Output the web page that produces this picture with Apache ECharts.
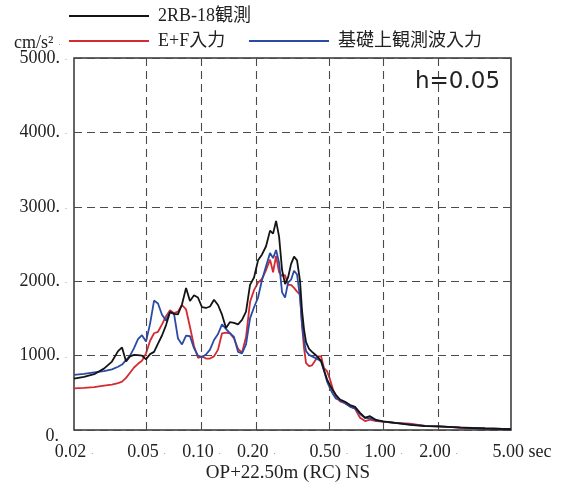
<!DOCTYPE html>
<html>
<head>
<meta charset="utf-8">
<script src="https://cdn.jsdelivr.net/npm/echarts@6/dist/echarts.min.js"></script>
<style>
html,body{margin:0;padding:0;background:#fff;}
#chart{width:565px;height:488px;}
</style>
</head>
<body>
<div id="chart"></div>
<script>
// Periods (sec)
const periods = [0.0200,0.0227,0.0258,0.0292,0.0323,0.0349,0.0367,0.0386,0.0406,0.0427,0.0449,0.0472,0.0497,0.0523,0.0550,0.0578,0.0608,0.0640,0.0673,0.0708,0.0744,0.0783,0.0824,0.0866,0.0911,0.0958,0.1008,0.1060,0.1115,0.1173,0.1234,0.1298,0.1365,0.1436,0.1510,0.1589,0.1671,0.1758,0.1849,0.1945,0.2046,0.2152,0.2264,0.2381,0.2474,0.2570,0.2669,0.2772,0.2879,0.2990,0.3105,0.3225,0.3349,0.3479,0.3568,0.3659,0.3753,0.3898,0.4049,0.4205,0.4368,0.4536,0.4711,0.4893,0.5083,0.5279,0.5483,0.5768,0.6144,0.6545,0.6971,0.7426,0.7910,0.8426,0.9091,0.993,1.156,1.397,1.689,2.041,2.628,3.606,5.00];
// 2RB-18観測 (black)
const obs2RB = [690,715,750,825,920,1060,1110,920,990,1010,1005,1000,950,1020,1050,1160,1270,1410,1585,1560,1555,1690,1910,1735,1810,1780,1650,1640,1660,1750,1680,1550,1370,1450,1440,1420,1480,1590,1950,2050,2280,2360,2470,2680,2640,2810,2600,2150,1960,2050,2230,2330,2280,2000,1600,1350,1180,1090,1050,1015,975,930,800,680,600,530,470,410,380,335,310,230,165,185,135,115,96,70,52,50,32,20,13];
// E+F入力 (red)
const inputEF = [560,565,575,595,610,630,650,700,770,840,890,930,1030,1200,1300,1320,1420,1530,1610,1570,1590,1680,1620,1385,1130,970,990,960,960,990,1080,1300,1310,1300,1230,1090,1040,1250,1720,1880,1980,2030,2150,2290,2120,2340,2120,2070,2080,1950,1950,1910,1860,1820,1400,1100,900,860,870,930,990,990,830,790,680,540,450,385,360,315,285,165,120,140,118,112,95,85,55,45,35,22,12];
// 基礎上観測波入力 (blue)
const inputBase = [740,755,775,790,815,850,880,940,1000,1100,1220,1275,1190,1430,1740,1700,1550,1470,1590,1560,1230,1150,1270,1260,1100,1000,980,1015,1080,1210,1290,1420,1360,1300,1250,1050,1030,1150,1500,1650,1780,2020,2200,2380,2310,2420,2250,1850,1780,1980,2020,2140,2090,1780,1420,1200,1060,1010,990,970,950,920,800,650,560,480,420,400,360,315,290,215,160,160,130,112,96,75,55,48,32,20,12];

const xTicks = [0.02,0.05,0.1,0.2,0.5,1,2,5];
const xTickLabels = ['0.02','0.05','0.10','0.20','0.50','1.00','2.00','5.00'];
const xUnit = 'sec';
const yMax = 5000, yStep = 1000;
const seriesNames = ['2RB-18観測','E+F入力','基礎上観測波入力'];
const dampingLabel = 'h=0.05';
const yUnit = 'cm/s²';
const xTitle = 'OP+22.50m (RC) NS';

const SERIF = "'Liberation Serif','Times New Roman','Noto Sans CJK JP',serif";
const TXT = '#222';
const pairs = arr => periods.map((t,i)=>[t, arr[i]]);

const richStyles = {
  a:{fontSize:18,fontFamily:SERIF,fontWeight:'normal',color:TXT},
  d:{fontSize:8,fontFamily:SERIF,fontWeight:'normal',color:'#666',padding:[0,0,0,5]},
  p:{width:22,fontSize:18},
  z:{fontSize:18,fontFamily:SERIF,fontWeight:'normal',color:TXT,padding:[12,8,0,0]}
};

const xMin = xTicks[0], xMax = xTicks[xTicks.length-1];
const chart = echarts.init(document.getElementById('chart'), null, {renderer:'canvas'});
const gridLine = {type:[8,5], width:1.1, color:'#4a4a4a'};
const markData = xTicks.map((v,i)=>{
  const edge = (i===0 || i===xTicks.length-1);
  let text;
  if (i===xTicks.length-1) text = '{p| }{a|'+xTickLabels[i]+' '+xUnit+'}';
  else text = '{a|'+xTickLabels[i]+'}{d|.}';
  // keep edge ticks just inside the axis extent so they are not clipped away
  const pos = i===0 ? v*1.0005 : (i===xTicks.length-1 ? v*0.9995 : v);
  return {
    xAxis: pos,
    lineStyle: edge ? {width:1, color:'rgba(0,0,0,0)', type:'solid'} : gridLine,
    label: {formatter: text}
  };
});

const legendBase = {
  orient:'horizontal', padding:0, icon:'rect', itemWidth:80, itemHeight:2,
  selectedMode:false,
  textStyle:{fontSize:18,fontFamily:SERIF,color:TXT,padding:[0,0,0,4]}
};

chart.setOption({
  animation:false,
  backgroundColor:'#fff',
  title:[
    {text:dampingLabel, left:410, top:66, textStyle:{fontFamily:"'DejaVu Sans',sans-serif",fontSize:23,fontWeight:'normal',color:'#222'}},
    {text:'{a|'+yUnit+'}{d|.}', left:9, top:29, textStyle:{fontWeight:'normal',rich:richStyles}}
  ],
  legend:[
    Object.assign({}, legendBase, {data:[seriesNames[0]], left:69, top:7}),
    Object.assign({}, legendBase, {data:[seriesNames[1]], left:69, top:32}),
    Object.assign({}, legendBase, {data:[seriesNames[2]], left:249, top:32})
  ],
  grid:{left:74, right:54, top:58, bottom:49, show:true, borderColor:'#333', borderWidth:1.5, backgroundColor:'transparent'},
  xAxis:{
    type:'log', logBase:10, min:xMin, max:xMax,
    axisLine:{show:false}, axisTick:{show:false}, axisLabel:{show:false}, splitLine:{show:false}, minorSplitLine:{show:false},
    name:xTitle, nameLocation:'middle', nameGap:34,
    nameTextStyle:{fontSize:19,fontFamily:SERIF,color:TXT,padding:[0,9,0,0]}
  },
  yAxis:{
    type:'value', min:0, max:yMax, interval:yStep,
    axisLine:{show:false}, axisTick:{show:false},
    splitLine:{show:true, lineStyle:gridLine},
    axisLabel:{margin:7, formatter:v=> v===0 ? '{z|0.}' : '{a|'+v+'.}{d|.}', rich:richStyles}
  },
  series:[
    {
      name:'grid', type:'line', data:[[0.05,null]], z:1, silent:true, showSymbol:false,
      markLine:{
        silent:true, symbol:'none', animation:false, precision:6,
        label:{show:true, position:'start', distance:13, rich:richStyles},
        data: markData
      }
    },
    {name:seriesNames[1], type:'line', data:pairs(inputEF), showSymbol:false, symbol:'none', z:3,
      lineStyle:{color:'#d42a30', width:1.8}, itemStyle:{color:'#d42a30'}},
    {name:seriesNames[2], type:'line', data:pairs(inputBase), showSymbol:false, symbol:'none', z:4,
      lineStyle:{color:'#2a4ba5', width:1.8}, itemStyle:{color:'#2a4ba5'}},
    {name:seriesNames[0], type:'line', data:pairs(obs2RB), showSymbol:false, symbol:'none', z:5,
      lineStyle:{color:'#141414', width:1.8}, itemStyle:{color:'#141414'}}
  ]
});
</script>
</body>
</html>
